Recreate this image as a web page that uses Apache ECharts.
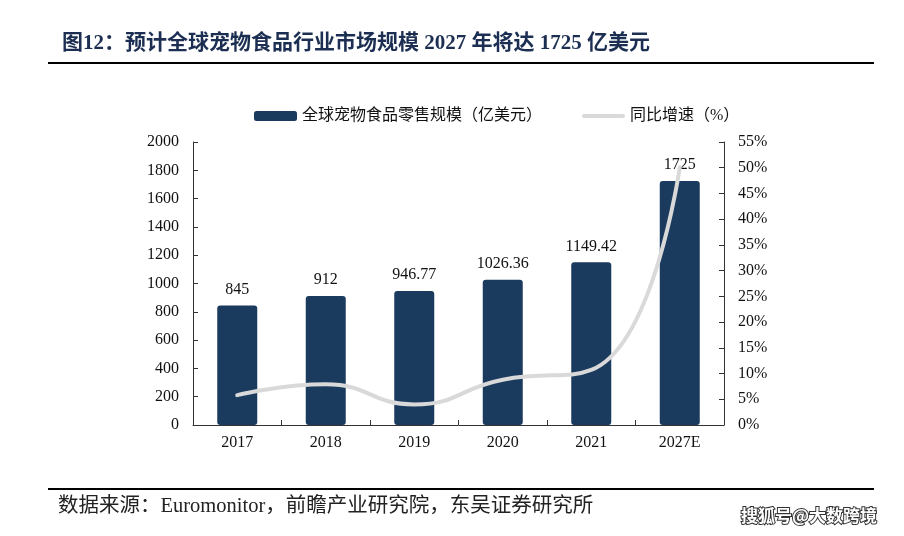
<!DOCTYPE html>
<html><head><meta charset="utf-8">
<script src="https://cdn.jsdelivr.net/npm/echarts@6/dist/echarts.min.js"></script>
<style>html,body{margin:0;padding:0;background:#fff;}#c{width:904px;height:536px;}</style>
</head><body><div id="c"></div>
<script>
const categories = ['2017','2018','2019','2020','2021','2027E'];
const marketSize = [845, 912, 946.77, 1026.36, 1149.42, 1725];
const growthRate = [5.8, 7.9, 4.0, 8.8, 10.7, 50.1];
const leftTicks = [0, 2000, 200];
const rightTicks = [0, 55, 5];
const barName = '全球宠物食品零售规模（亿美元）';
const lineName = '同比增速（%）';
const titleText = '图12：预计全球宠物食品行业市场规模 2027 年将达 1725 亿美元';
const sourceText = '数据来源：Euromonitor，前瞻产业研究院，东吴证券研究所';
const watermark = '搜狐号@大数跨境';

const serif = '"Liberation Serif", "Times New Roman", "Noto Sans CJK SC", serif';
const chart = echarts.init(document.getElementById('c'));
chart.setOption({
  animation: false,
  backgroundColor: '#fff',
  legend: {
    left: 249, top: 103,
    itemWidth: 43, itemHeight: 10, itemGap: 40,
    textStyle: {fontFamily: serif, fontSize: 16, color: '#111'},
    data: [
      {name: barName, icon: 'roundRect'},
      {name: lineName, icon: 'path://M2,0 L41,0 A2,2 0 0 1 41,4 L2,4 A2,2 0 0 1 2,0 Z', itemStyle: {color: '#d9d9d9'}}
    ]
  },
  grid: {left: 193, right: 180, top: 142, bottom: 111},
  xAxis: {
    type: 'category', data: categories,
    axisLine: {lineStyle: {color: '#333', width: 1}},
    axisTick: {show: true, inside: true, length: 5, lineStyle: {color: '#333'}},
    axisLabel: {fontFamily: serif, fontSize: 16, color: '#111', margin: 10}
  },
  yAxis: [{
    type: 'value', min: leftTicks[0], max: leftTicks[1], interval: leftTicks[2],
    splitLine: {show: false},
    axisLine: {show: true, lineStyle: {color: '#333'}},
    axisTick: {show: true, inside: true, length: 5, lineStyle: {color: '#333'}},
    axisLabel: {fontFamily: serif, fontSize: 16, color: '#111', margin: 14, formatter: function (v) { return String(v); }}
  }, {
    type: 'value', min: rightTicks[0], max: rightTicks[1], interval: rightTicks[2],
    splitLine: {show: false},
    axisLine: {show: true, lineStyle: {color: '#333'}},
    axisTick: {show: true, inside: true, length: 5, lineStyle: {color: '#333'}},
    axisLabel: {fontFamily: serif, fontSize: 16, color: '#111', margin: 14, formatter: '{value}%'}
  }],
  series: [{
    name: barName, type: 'bar', data: marketSize, barWidth: 40,
    itemStyle: {color: '#1a3a5e', borderRadius: 3},
    label: {show: true, position: 'top', distance: 8, fontFamily: serif, fontSize: 16, color: '#111'}
  }, {
    name: lineName, type: 'line', yAxisIndex: 1, data: growthRate,
    smooth: 0.5, symbol: 'none',
    lineStyle: {color: '#d9d9d9', width: 4, cap: 'round'},
    itemStyle: {color: '#d9d9d9'},
    z: 5
  }],
  graphic: [
    {type: 'text', left: 62, top: 33, style: {text: titleText, fontFamily: serif, fontSize: 21, fontWeight: 'bold', fill: '#1c2f52'}},
    {type: 'rect', shape: {x: 48, y: 62, width: 826, height: 2}, style: {fill: '#000'}},
    {type: 'rect', shape: {x: 48, y: 488, width: 826, height: 2}, style: {fill: '#000'}},
    {type: 'text', left: 58, top: 496, style: {text: sourceText, fontFamily: serif, fontSize: 20.5, fill: '#222'}},
    {type: 'text', left: 740, top: 506, style: {text: watermark, fontFamily: '"Noto Sans CJK SC", sans-serif', fontSize: 17, fontWeight: 'bold', fill: '#fff', stroke: '#333', lineWidth: 2}}
  ]
});
</script></body></html>
